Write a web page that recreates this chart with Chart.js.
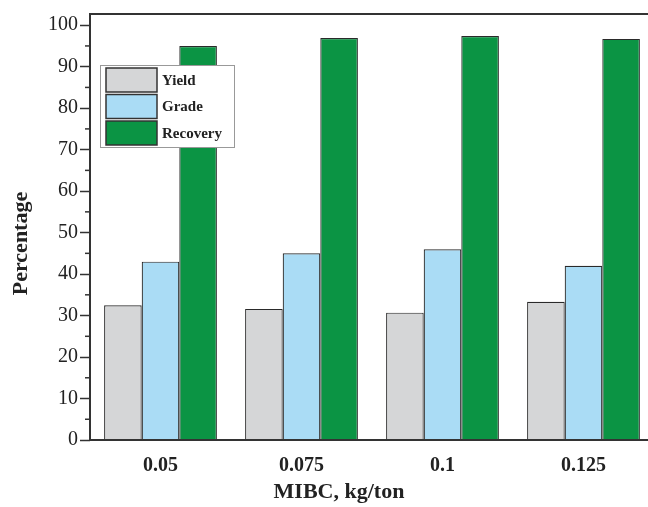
<!DOCTYPE html>
<html>
<head>
<meta charset="utf-8">
<script src="https://cdn.jsdelivr.net/npm/chart.js@4.4.1/dist/chart.umd.min.js"></script>
<style>
  html, body { margin: 0; padding: 0; background: #fff; overflow: hidden; }
  #wrap { width: 656px; height: 507px; }
</style>
</head>
<body>
<div id="wrap"><canvas id="chart" width="656" height="507"></canvas></div>
<script>
// MIBC dosage (kg/ton)
const doses = ['0.05', '0.075', '0.1', '0.125'];
const yieldVals = [32.5, 31.6, 30.7, 33.3];
const gradeVals = [43, 45, 46, 42];
const recoveryVals = [95, 96.9, 97.4, 96.7];
const seriesNames = ['Yield', 'Grade', 'Recovery'];
const seriesColors = ['#d5d6d7', '#aadcf5', '#0b9444'];

const serif = "'Liberation Serif', 'Times New Roman', serif";

// box around the plot + short minor ticks on the y axis
const framePlugin = {
  id: 'frame',
  afterDraw(chart) {
    const a = chart.chartArea, ctx = chart.ctx, y = chart.scales.y;
    ctx.save();
    ctx.strokeStyle = '#333';
    ctx.lineWidth = 1.5;
    for (let v = 5; v < 100; v += 10) {
      const py = y.getPixelForValue(v);
      ctx.beginPath();
      ctx.moveTo(a.left - 5, py);
      ctx.lineTo(a.left, py);
      ctx.stroke();
    }
    ctx.lineWidth = 2;
    ctx.strokeRect(a.left, a.top, a.right - a.left, a.bottom - a.top);
    ctx.restore();
  }
};

// legend drawn inside the plot, over the first recovery bar
const boxLegend = {
  id: 'boxLegend',
  afterDatasetsDraw(chart) {
    const a = chart.chartArea, ctx = chart.ctx;
    const x0 = a.left + 10, y0 = a.top + 51;
    ctx.save();
    ctx.fillStyle = '#fff';
    ctx.fillRect(x0, y0, 134, 82);
    ctx.strokeStyle = '#999';
    ctx.lineWidth = 1;
    ctx.strokeRect(x0 + 0.5, y0 + 0.5, 134, 82);
    ctx.font = 'bold 15px ' + serif;
    ctx.textBaseline = 'middle';
    chart.data.datasets.forEach((ds, i) => {
      const ry = y0 + 3 + i * 26.5;
      ctx.fillStyle = ds.backgroundColor;
      ctx.fillRect(x0 + 6, ry, 51, 24);
      ctx.strokeStyle = '#333';
      ctx.lineWidth = 1.5;
      ctx.strokeRect(x0 + 6, ry, 51, 24);
      ctx.fillStyle = '#222';
      ctx.fillText(ds.label, x0 + 62, ry + 13);
    });
    ctx.restore();
  }
};

new Chart(document.getElementById('chart'), {
  type: 'bar',
  data: {
    labels: doses,
    datasets: [yieldVals, gradeVals, recoveryVals].map((vals, i) => ({
      label: seriesNames[i],
      data: vals,
      backgroundColor: seriesColors[i],
      borderColor: '#2a2a2a',
      borderWidth: 1.2,
      categoryPercentage: 0.8,
      barPercentage: 1.0
    }))
  },
  options: {
    responsive: false,
    animation: false,
    layout: { padding: { top: 14, right: 2, left: 0, bottom: 0 } },
    plugins: { legend: { display: false }, tooltip: { enabled: false } },
    scales: {
      x: {
        grid: { display: false, drawTicks: false },
        border: { display: false },
        ticks: { color: '#222', padding: 14, font: { family: serif, size: 20, weight: 'bold' } },
        title: {
          display: true,
          text: 'MIBC, kg/ton' + '\u00a0'.repeat(12),
          color: '#222',
          padding: { top: 0, bottom: 1 },
          font: { family: serif, size: 22, weight: 'bold' }
        },
        afterFit(s) { s.height = 67; }
      },
      y: {
        min: 0,
        max: 102.7,
        grid: {
          drawOnChartArea: false,
          tickLength: 10,
          tickWidth: 1.5,
          tickColor: c => (c.tick && c.tick.value % 10 === 0) ? '#333' : 'rgba(0,0,0,0)'
        },
        border: { display: false },
        ticks: {
          stepSize: 5,
          includeBounds: false,
          padding: 2,
          color: '#222',
          font: { family: serif, size: 20 },
          callback: v => (v % 10 === 0 ? v : '')
        },
        title: {
          display: true,
          text: 'Percentage' + '\u00a0'.repeat(6),
          color: '#222',
          padding: { top: 8, bottom: 0 },
          font: { family: serif, size: 22, weight: 'bold' }
        },
        afterFit(s) { s.width = 90; }
      }
    }
  },
  plugins: [framePlugin, boxLegend]
});
</script>
</body>
</html>
